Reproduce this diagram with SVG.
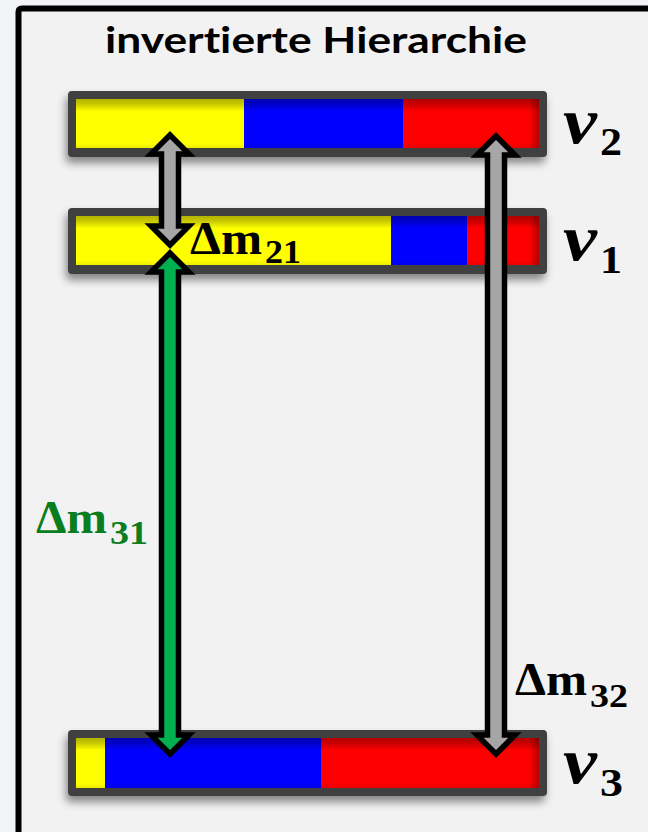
<svg xmlns="http://www.w3.org/2000/svg" width="648" height="832" viewBox="0 0 648 832">
<defs>
<style>
.bar{fill:#404040}
.y{fill:#ffff00}.b{fill:#0000ff}.r{fill:#ff0000}
.shadeT{fill:url(#gTop)}
.shadeR{fill:url(#gRight)}
.arrow{stroke:#000;stroke-width:5.5;stroke-linejoin:miter;stroke-miterlimit:6}
.gray{fill:#a6a6a6}.green{fill:#00b050}
.math{font-family:"Liberation Serif","DejaVu Serif",serif;font-weight:bold}
.nu{font-style:italic;font-size:66px}
.nusub{font-size:40px}
.dm{font-size:46px}
.dmsub{font-size:34px}
.title{font-family:Lato,"Liberation Sans",sans-serif;font-weight:bold;font-size:36px;fill:#000;font-variant-ligatures:none}
</style>
<linearGradient id="gTop" x1="0" y1="0" x2="0" y2="1">
<stop offset="0" stop-color="#000" stop-opacity="0.3"/>
<stop offset="0.1" stop-color="#000" stop-opacity="0.22"/>
<stop offset="0.25" stop-color="#000" stop-opacity="0"/>
<stop offset="0.9" stop-color="#000" stop-opacity="0"/>
<stop offset="1" stop-color="#000" stop-opacity="0.08"/>
</linearGradient>
<linearGradient id="gRight" x1="0" y1="0" x2="1" y2="0">
<stop offset="0" stop-color="#000" stop-opacity="0"/>
<stop offset="1" stop-color="#000" stop-opacity="0.28"/>
</linearGradient>
<filter id="shadow" x="-10%" y="-40%" width="120%" height="190%">
<feDropShadow dx="-2" dy="6" stdDeviation="4" flood-color="#000" flood-opacity="0.45"/>
</filter>
</defs>
<rect x="0" y="0" width="648" height="832" fill="#f3f4f8"/>
<rect x="18" y="8" width="630" height="824" fill="#f2f2f2"/>
<path d="M18.5,832 L18.5,12 Q18.5,8.5 22,8.5 L648,8.5" fill="none" stroke="#000" stroke-width="6"/>
<text class="title" x="105" y="53" textLength="422" lengthAdjust="spacingAndGlyphs">invertierte Hierarchie</text>

<g id="nu2">
<rect class="bar" x="68" y="91" width="479" height="66" rx="4" filter="url(#shadow)"/>
<rect class="y" x="76" y="99" width="168" height="49"/>
<rect class="b" x="244" y="99" width="159" height="49"/>
<rect class="r" x="403" y="99" width="136" height="49"/>
<rect class="shadeT" x="76" y="99" width="463" height="49"/>
<rect class="shadeR" x="529" y="99" width="10" height="49"/>
<text class="math nu" x="563" y="143" textLength="34" lengthAdjust="spacingAndGlyphs">ν</text>
<text class="math nusub" x="600" y="155" textLength="22" lengthAdjust="spacingAndGlyphs">2</text>
</g>

<g id="nu1">
<rect class="bar" x="68" y="208" width="479" height="66" rx="4" filter="url(#shadow)"/>
<rect class="y" x="76" y="216" width="315" height="49"/>
<rect class="b" x="391" y="216" width="76" height="49"/>
<rect class="r" x="467" y="216" width="72" height="49"/>
<rect class="shadeT" x="76" y="216" width="463" height="49"/>
<rect class="shadeR" x="529" y="216" width="10" height="49"/>
<text class="math nu" x="563" y="260" textLength="34" lengthAdjust="spacingAndGlyphs">ν</text>
<text class="math nusub" x="600" y="273" textLength="22" lengthAdjust="spacingAndGlyphs">1</text>
</g>

<g id="nu3">
<rect class="bar" x="68" y="730" width="479" height="66" rx="4" filter="url(#shadow)"/>
<rect class="y" x="76" y="738" width="29" height="50"/>
<rect class="b" x="105" y="738" width="216" height="50"/>
<rect class="r" x="321" y="738" width="218" height="50"/>
<rect class="shadeT" x="76" y="738" width="463" height="50"/>
<rect class="shadeR" x="529" y="738" width="10" height="50"/>
<text class="math nu" x="563" y="783" textLength="34" lengthAdjust="spacingAndGlyphs">ν</text>
<text class="math nusub" x="600" y="796" textLength="23" lengthAdjust="spacingAndGlyphs">3</text>
</g>

<g id="connectors">
<path class="arrow gray" d="M170,135 L189,154 L178.5,154 L178.5,226 L189,226 L170,245 L151,226 L161.5,226 L161.5,154 L151,154 Z"/>
<path class="arrow green" d="M170,253 L189,272 L178.5,272 L178.5,735 L189,735 L170,754 L151,735 L161.5,735 L161.5,272 L151,272 Z"/>
<path class="arrow gray" d="M496,136 L515,155 L504.5,155 L504.5,735 L515,735 L496,754 L477,735 L487.5,735 L487.5,155 L477,155 Z"/>
</g>

<g id="labels">
<text class="math dm" x="190" y="254" fill="#000" textLength="72" lengthAdjust="spacingAndGlyphs">Δm</text>
<text class="math dmsub" x="265" y="263" fill="#000" textLength="36" lengthAdjust="spacingAndGlyphs">21</text>
<text class="math dm" x="36" y="533" fill="#0a7d1e" textLength="71" lengthAdjust="spacingAndGlyphs">Δm</text>
<text class="math dmsub" x="110" y="544" fill="#0a7d1e" textLength="38" lengthAdjust="spacingAndGlyphs">31</text>
<text class="math dm" x="515" y="695" fill="#000" textLength="72" lengthAdjust="spacingAndGlyphs">Δm</text>
<text class="math dmsub" x="590" y="707" fill="#000" textLength="38" lengthAdjust="spacingAndGlyphs">32</text>
</g>
</svg>
